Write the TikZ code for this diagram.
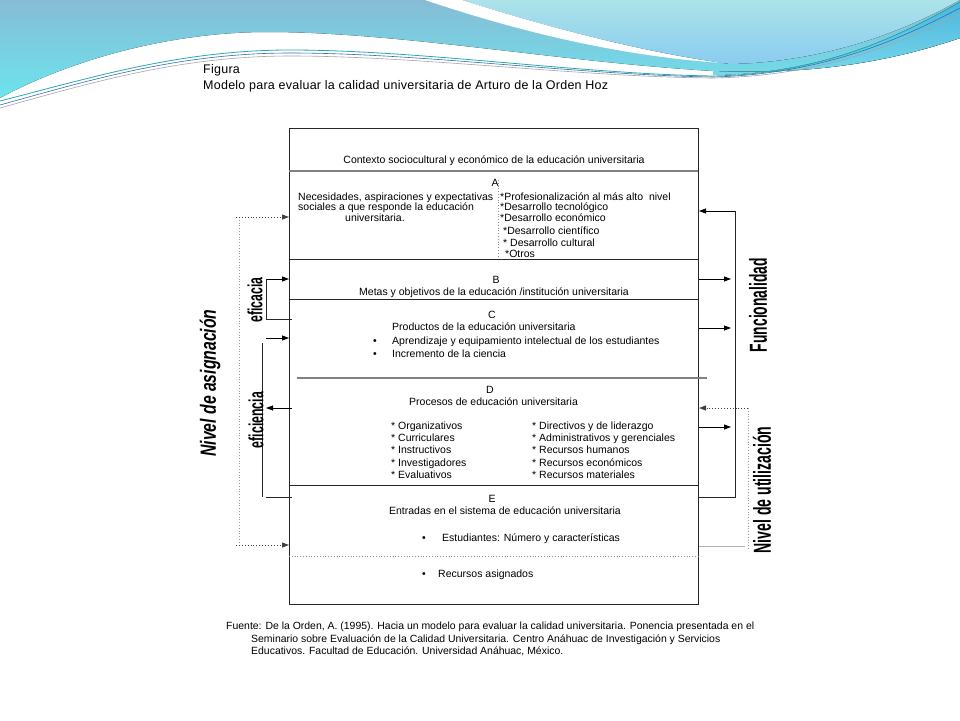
\documentclass[tikz,border=0pt]{standalone}
\usepackage{fontspec}
\setmainfont{Liberation Sans}
\usetikzlibrary{arrows.meta}
\definecolor{bgA}{RGB}{134,188,213}
\definecolor{bgB}{RGB}{108,228,238}
\definecolor{bgC}{RGB}{172,227,233}
\definecolor{bgD}{RGB}{138,204,240}
\definecolor{bandA}{RGB}{78,182,222}
\definecolor{bandB}{RGB}{120,216,234}
\definecolor{lnTeal}{RGB}{40,170,170}
\definecolor{lnBlue}{RGB}{50,110,180}
\definecolor{lnGray}{RGB}{165,165,165}
\begin{document}
\begin{tikzpicture}[x=1pt,y=-1pt,
  box/.style={draw=black!85,line width=0.8pt},
  sep/.style={draw=black!85,line width=0.8pt},
  gsep/.style={draw=black!50,line width=1.6pt},
  txt/.style={font=\fontsize{10.5}{12}\selectfont,inner sep=0pt,yshift=-1.5pt},
  ltxt/.style={txt,anchor=mid west},
  ctxt/.style={txt,anchor=mid},
  ftxt/.style={font=\fontsize{10.45}{12}\selectfont,inner sep=0pt,anchor=mid west,yshift=-1.8pt},
  ttxt/.style={font=\fontsize{12.5}{14}\selectfont\addfontfeatures{LetterSpace=2}, inner sep=0pt,anchor=mid west,yshift=-1.8pt},
  arr/.style={draw=black,line width=0.8pt,-{Triangle[length=7pt,width=5pt]}},
  darr/.style={draw=black!75,line width=0.9pt,dotted,-{Triangle[length=7pt,width=5pt]}},
  bline/.style={draw=black!85,line width=0.8pt},
  dline/.style={draw=black!45,line width=0.8pt,dotted},
  vlab/.style={rotate=90,inner sep=0pt,anchor=center},
]
\useasboundingbox (0,0) rectangle (960,720);
% ---------- background swoosh ----------
\fill[white] (0,0) rectangle (960,720);
\fill[top color=bgA,bottom color=bgB] (0,0) -- (960,0) -- (960,38)
  .. controls (910,55) and (830,76) .. (713,71)
  .. controls (560,62) and (400,32) .. (267,32)
  .. controls (170,32) and (70,60) .. (0,98) -- cycle;
\fill[top color=bgC,bottom color=bgD] (462,0) -- (960,0)
  .. controls (910,28) and (830,62) .. (730,64)
  .. controls (640,52) and (540,25) .. (462,0) -- cycle;
\fill[white] (425,0) .. controls (520,32) and (620,56) .. (722,63)
  .. controls (640,52) and (540,25) .. (462,0) -- cycle;
\fill[top color=bandA,bottom color=bandB] (713,75)
  .. controls (830,74) and (910,30) .. (960,2) -- (960,38)
  .. controls (910,55) and (830,76) .. (713,71) -- cycle;
\draw[lnTeal,line width=0.8pt] (0,101) .. controls (90,78) and (180,50) .. (290,50)
  .. controls (420,50) and (580,74) .. (713,76) .. controls (830,74) and (910,30) .. (960,2);
\draw[lnBlue,line width=0.6pt] (0,105) .. controls (90,80) and (180,53) .. (290,53)
  .. controls (420,53) and (580,75) .. (713,77) .. controls (830,74) and (910,34) .. (960,8);
\draw[lnGray,line width=0.6pt] (0,108) .. controls (90,83) and (180,56) .. (290,56)
  .. controls (420,56) and (580,77) .. (713,78) .. controls (830,76) and (910,38) .. (960,14);
% ---------- title ----------
\node[ttxt] (t1) at (203,69) {Figura};
\node[ttxt] (t2) at (203,85) {Modelo para evaluar la calidad universitaria de Arturo de la Orden Hoz};
% ---------- main box ----------
\coordinate (bTL) at (289,128);
\coordinate (bBR) at (698,604);
\draw[box,fill=white] (bTL) rectangle (bBR);
\draw[gsep] (289,171) -- (698,171);
\draw[sep] (289,259) -- (698,259);
\draw[sep] (289,299) -- (698,299);
\draw[gsep] (297,378) -- (707,378);
\draw[sep] (289,485) -- (698,485);
\draw[dline] (289,556) -- (698,556);
\draw[dline] (498,180) -- (498,258);
% ---------- box texts ----------
\node[ctxt] (ctx) at (494,159) {Contexto sociocultural y económico de la educación universitaria};
\node[ctxt] (A) at (495,182) {A};
\node[ltxt] (a1) at (298,196) {Necesidades, aspiraciones y expectativas};
\node[ltxt] (a2) at (298,206) {sociales a que responde la educación};
\node[ltxt] (a3) at (345,217) {universitaria.};
\node[ltxt] (r1) at (500,196) {*Profesionalización al más alto\ \ nivel};
\node[ltxt] (r2) at (500,206) {*Desarrollo tecnológico};
\node[ltxt] (r3) at (500,217) {*Desarrollo económico};
\node[ltxt] (r4) at (503,230) {*Desarrollo científico};
\node[ltxt] (r5) at (503,242) {* Desarrollo cultural};
\node[ltxt] (r6) at (505,253) {*Otros};
\node[ctxt] (B) at (496,279) {B};
\node[ctxt] (bt) at (494,291) {Metas y objetivos de la educación /institución universitaria};
\node[ctxt] (C) at (492,314) {C};
\node[ltxt] (c1) at (392,326) {Productos de la educación universitaria};
\node[ctxt] (cb1) at (375,340) {•};
\node[ltxt] (c2) at (392,340) {Aprendizaje y equipamiento intelectual de los estudiantes};
\node[ctxt] (cb2) at (375,353) {•};
\node[ltxt] (c3) at (392,353) {Incremento de la ciencia};
\node[ctxt] (D) at (490,389) {D};
\node[ltxt] (d0) at (409,401) {Procesos de educación universitaria};
\node[ltxt] (dl1) at (391,425) {* Organizativos};
\node[ltxt] (dl2) at (391,437) {* Curriculares};
\node[ltxt] (dl3) at (391,449) {* Instructivos};
\node[ltxt] (dl4) at (391,462) {* Investigadores};
\node[ltxt] (dl5) at (391,474) {* Evaluativos};
\node[ltxt] (dr1) at (532,425) {* Directivos y de liderazgo};
\node[ltxt] (dr2) at (532,437) {* Administrativos y gerenciales};
\node[ltxt] (dr3) at (532,449) {* Recursos humanos};
\node[ltxt] (dr4) at (532,462) {* Recursos económicos};
\node[ltxt] (dr5) at (532,474) {* Recursos materiales};
\node[ctxt] (E) at (492,498) {E};
\node[ctxt] (e0) at (505,510) {Entradas en el sistema de educación universitaria};
\node[ctxt] (eb1) at (424,537) {•};
\node[ltxt] (e1) at (442,537) {Estudiantes: Número y características};
\node[ctxt] (eb2) at (424,573) {•};
\node[ltxt] (e2) at (438,573) {Recursos asignados};
% ---------- left side ----------
\coordinate (la1) at (236,217); \coordinate (la1e) at (289,217);
\coordinate (la2) at (236,545); \coordinate (la2e) at (289,545);
\coordinate (lv1) at (239,217); \coordinate (lv2) at (239,545);
\draw[dline,draw=black!40] (lv1) -- (lv2);
\draw[darr] (la1) -- (la1e);
\draw[darr] (la2) -- (la2e);
\coordinate (ef1) at (266,279); \coordinate (ef1e) at (289,279);
\coordinate (ef2) at (266,319); \coordinate (ef2e) at (292,319);
\draw[arr] (ef1) -- (ef1e);
\draw[bline] (ef1) -- (ef2) -- (ef2e);
\coordinate (en1) at (266,338); \coordinate (en1e) at (289,338);
\draw[arr] (en1) -- (en1e);
\coordinate (en2) at (292,408); \coordinate (en2e) at (266,408);
\draw[arr] (en2) -- (en2e);
\coordinate (ev1) at (262,343); \coordinate (ev2) at (262,497); \coordinate (ev3) at (292,497);
\draw[bline] (ev1) -- (ev2);
\draw[bline] (266,497) -- (ev3);
\node[vlab,font=\fontsize{22}{22}\selectfont\bfseries\itshape] (nas) at (210,383) {\scalebox{0.716}[1]{Nivel de asignación}};
\node[vlab,font=\fontsize{20.5}{20.5}\selectfont\bfseries] (efc) at (255,300) {\scalebox{0.6}[1]{eficacia}};
\node[vlab,font=\fontsize{20.5}{20.5}\selectfont\bfseries] (efi) at (256,420) {\scalebox{0.6}[1]{eficiencia}};
% ---------- right side ----------
\coordinate (ra1) at (735,211); \coordinate (ra1e) at (699,211);
\draw[arr] (ra1) -- (ra1e);
\coordinate (rv2) at (735,497); \coordinate (rv3) at (699,497);
\draw[bline] (ra1) -- (rv2) -- (rv3);
\coordinate (rb1) at (699,279); \coordinate (rb1e) at (731,279);
\draw[arr] (rb1) -- (rb1e);
\coordinate (rc1) at (699,328); \coordinate (rc1e) at (731,328);
\draw[arr] (rc1) -- (rc1e);
\coordinate (rd1) at (699,427); \coordinate (rd1e) at (731,427);
\draw[arr] (rd1) -- (rd1e);
\coordinate (ru1) at (748,408); \coordinate (ru1e) at (699,408);
\draw[darr] (ru1) -- (ru1e);
\coordinate (ru2) at (748,550);
\draw[dline,draw=black!40] (ru1) -- (ru2);
\coordinate (ru3) at (745,546); \coordinate (ru4) at (699,546);
\draw[draw=black!30,line width=0.8pt] (ru3) -- (ru4);
\node[vlab,font=\fontsize{24.6}{24.6}\selectfont\bfseries] (fun) at (758,305) {\scalebox{0.564}[1]{Funcionalidad}};
\node[vlab,font=\fontsize{24.6}{24.6}\selectfont\bfseries] (nut) at (762,490) {\scalebox{0.573}[1]{Nivel de utilización}};
% ---------- footer ----------
\node[ftxt] (f1) at (226,625) {Fuente: De la Orden, A. (1995). Hacia un modelo para evaluar la calidad universitaria. Ponencia presentada en el};
\node[ftxt] (f2) at (251,638) {Seminario sobre Evaluación de la Calidad Universitaria. Centro Anáhuac de Investigación y Servicios};
\node[ftxt] (f3) at (251,650) {Educativos. Facultad de Educación. Universidad Anáhuac, México.};
\end{tikzpicture}
\end{document}
